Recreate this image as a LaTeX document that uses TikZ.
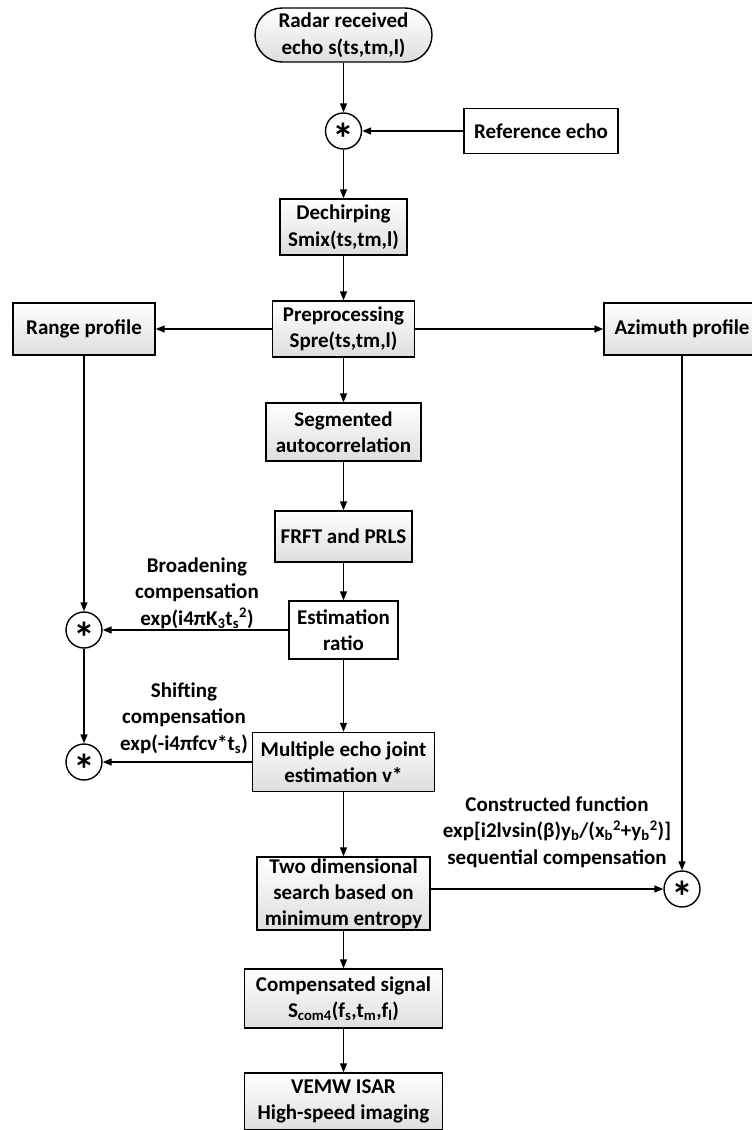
\documentclass[tikz,border=0pt]{standalone}
\usepackage{fontspec}
\setmainfont{Carlito}
\usetikzlibrary{arrows.meta}
\newcommand{\starmark}{\raisebox{-23pt}[0pt][0pt]{*}}
\begin{document}
\begin{tikzpicture}[x=1pt,y=-1pt,
  txt/.style={font=\bfseries\fontsize{21}{26.5}\selectfont, align=center},
  boxbase/.style={txt, draw, line width=1.4pt, inner sep=2pt},
  box/.style={boxbase, top color=white, bottom color=black!13},
  wbox/.style={boxbase, fill=white},
  term/.style={box, rounded corners=27pt},
  sumc/.style={circle, draw, line width=1.4pt, minimum size=36pt, inner sep=0pt, fill=white,
    font=\bfseries\fontsize{44}{44}\selectfont},
  arr/.style={-{Triangle[length=9pt,width=7pt]}, line width=1.4pt},
  lbl/.style={txt, inner sep=0pt}
]
\useasboundingbox (0,0) rectangle (752,1130);

\node[term, minimum width=177pt, minimum height=54pt] (start) at (343.5,35) {Radar received\\echo s(ts,tm,l)};
\node[sumc] (cA) at (343.5,131) {\starmark};
\node[wbox, minimum width=154pt, minimum height=45pt] (ref) at (541,131) {Reference echo};
\node[box, minimum width=127pt, minimum height=56pt] (dech) at (343.5,227) {Dechirping\\Smix(ts,tm,l)};
\node[box, minimum width=142pt, minimum height=56pt] (pre) at (343.5,329) {Preprocessing\\Spre(ts,tm,l)};
\node[box, minimum width=142pt, minimum height=52pt] (range) at (84,329) {Range profile};
\node[box, minimum width=156pt, minimum height=52pt] (az) at (682,329) {Azimuth profile};
\node[box, minimum width=155pt, minimum height=58pt] (seg) at (343.5,432) {Segmented\\autocorrelation};
\node[box, minimum width=137pt, minimum height=51pt] (frft) at (343.5,536.5) {FRFT and PRLS};
\node[wbox, minimum width=109pt, minimum height=58pt] (est) at (343.5,630) {Estimation\\ratio};
\node[sumc] (c1) at (84,630) {\starmark};
\node[sumc] (c2) at (84,762) {\starmark};
\node[box, minimum width=182pt, minimum height=59pt] (multi) at (343.5,762) {Multiple echo joint\\estimation v*};
\node[box, minimum width=173pt, minimum height=73pt, inner ysep=0pt, font=\bfseries\fontsize{21}{26}\selectfont] (two) at (343.5,893.5) {Two dimensional\\search based on\\minimum entropy};
\node[sumc] (c3) at (682,889) {\starmark};
\node[box, minimum width=198pt, minimum height=59pt] (comp) at (343.5,998.5) {Compensated signal\\S\textsubscript{com4}(f\textsubscript{s},t\textsubscript{m},f\textsubscript{l})};
\node[box, minimum width=198pt, minimum height=57pt] (vemw) at (343.5,1101.5) {VEMW ISAR\\High-speed imaging};

\node[lbl] (broad) at (197,593) {Broadening\\compensation\hspace*{26pt}\\exp(i4πK\textsubscript{3}t\textsubscript{s}\textsuperscript{2})};
\node[lbl] (shift) at (184,718) {Shifting\\compensation\hspace*{26pt}\\exp(-i4πfcv*t\textsubscript{s})};
\node[lbl] (cons) at (557,832) {Constructed function\\exp[i2lvsin(β)y\textsubscript{b}/(x\textsubscript{b}\textsuperscript{2}+y\textsubscript{b}\textsuperscript{2})]\\sequential compensation};

\draw[arr] (start) -- (cA);
\draw[arr] (ref) -- (cA);
\draw[arr] (cA) -- (dech);
\draw[arr] (dech) -- (pre);
\draw[arr] (pre) -- (range);
\draw[arr] (pre) -- (az);
\draw[arr] (pre) -- (seg);
\draw[arr] (seg) -- (frft);
\draw[arr] (frft) -- (est);
\draw[arr] (est) -- (c1);
\draw[arr] (range) -- (c1);
\draw[arr] (c1) -- (c2);
\draw[arr] (est) -- (multi);
\draw[arr] (multi) -- (c2);
\draw[arr] (multi) -- (two);
\draw[arr] (c3 -| two.east) -- (c3);
\draw[arr] (az) -- (c3);
\draw[arr] (two) -- (comp);
\draw[arr] (comp) -- (vemw);
\end{tikzpicture}
\end{document}
